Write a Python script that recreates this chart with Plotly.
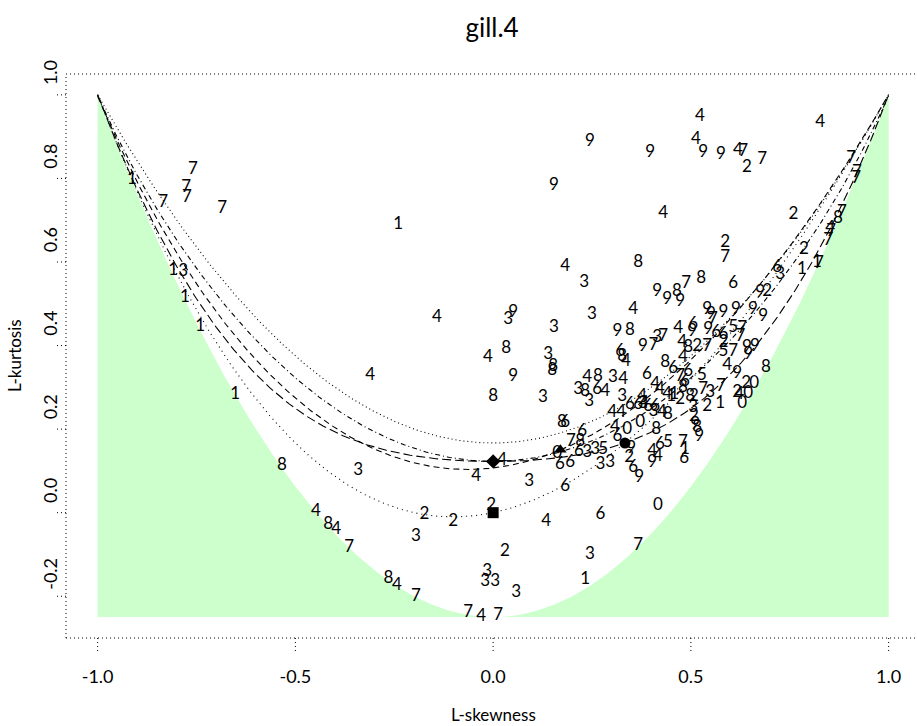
import numpy as np
import plotly.graph_objects as go

# ---- text ----
chart_title = "gill.4"
x_title = "L-skewness"
y_title = "L-kurtosis"
x_tickvals = [-1.0, -0.5, 0.0, 0.5, 1.0]
x_ticktext = ["-1.0", "-0.5", "0.0", "0.5", "1.0"]
y_tickvals = [-0.2, 0.0, 0.2, 0.4, 0.6, 0.8, 1.0]
y_ticktext = ["-0.2", "0.0", "0.2", "0.4", "0.6", "0.8", "1.0"]

# ---- sample L-moment ratios, labelled by group ----
site_group = [
    "7", "1", "7", "7", "7", "7", "1", "1", "3", "1",
    "1", "4", "4", "1", "8", "3", "4", "8", "4", "7",
    "3", "2", "2", "2", "8", "4", "7", "3", "3", "3",
    "3", "7", "4", "7", "2", "4", "8", "4", "4", "3",
    "6", "4", "6", "0", "7", "3", "1", "9", "9", "4",
    "4", "9", "9", "4", "7", "2", "7", "4", "9", "4",
    "2", "2", "7", "2", "8", "4", "3", "7", "8", "6",
    "9", "8", "9", "9", "7", "7", "7", "7", "8", "4",
    "7", "7", "1", "7", "1", "6", "3", "9", "2", "9",
    "9", "9", "9", "9", "9", "7", "4", "9", "3", "3",
    "3", "9", "8", "3", "7", "9", "7", "4", "6", "9",
    "9", "6", "6", "5", "7", "7", "4", "8", "2", "7",
    "5", "7", "9", "9", "9", "8", "3", "8", "8", "9",
    "6", "8", "4", "8", "4", "6", "6", "5", "4", "9",
    "8", "6", "4", "7", "6", "3", "8", "6", "4", "4",
    "8", "3", "4", "3", "3", "4", "3", "4", "4", "1",
    "1", "8", "2", "8", "2", "7", "3", "7", "2", "4",
    "2", "0", "0", "3", "2", "1", "0", "3", "6", "6",
    "4", "6", "6", "3", "4", "8", "4", "4", "4", "0",
    "0", "8", "2", "9", "8", "9", "8", "6", "6", "7",
    "8", "6", "9", "6", "3", "3", "5", "0", "6", "6",
    "3", "3", "2", "6", "9", "4", "4", "5", "6", "9",
    "7", "1", "6", "2",
]
site_tau3 = [
    -0.759, -0.913, -0.776, -0.774, -0.834, -0.685, -0.240, -0.809, -0.784, -0.779,
    -0.741, -0.142, -0.311, -0.652, -0.534, -0.341, -0.448, -0.417, -0.397, -0.364,
    -0.195, -0.174, -0.101, -0.005, -0.265, -0.243, -0.195, -0.015, -0.020, 0.005,
    0.058, -0.063, -0.030, 0.013, 0.030, -0.043, 0.000, -0.013, 0.023, 0.091,
    0.182, 0.134, 0.271, 0.417, 0.367, 0.245, 0.233, 0.245, 0.397, 0.523,
    0.513, 0.531, 0.576, 0.619, 0.632, 0.642, 0.680, 0.827, 0.154, 0.430,
    0.759, 0.587, 0.587, 0.786, 0.367, 0.182, 0.230, 0.488, 0.526, 0.607,
    0.415, 0.465, 0.440, 0.473, 0.905, 0.920, 0.918, 0.882, 0.872, 0.852,
    0.855, 0.847, 0.819, 0.824, 0.781, 0.718, 0.726, 0.675, 0.693, 0.683,
    0.657, 0.614, 0.582, 0.541, 0.551, 0.556, 0.354, 0.051, 0.038, 0.250,
    0.154, 0.314, 0.346, 0.415, 0.430, 0.379, 0.405, 0.468, 0.506, 0.503,
    0.544, 0.564, 0.582, 0.607, 0.630, 0.625, 0.478, 0.493, 0.516, 0.541,
    0.582, 0.607, 0.642, 0.662, 0.645, 0.033, 0.139, 0.152, 0.149, 0.051,
    0.321, 0.326, 0.336, 0.435, 0.480, 0.455, 0.493, 0.528, 0.592, 0.617,
    0.690, 0.389, 0.410, 0.473, 0.485, 0.215, 0.233, 0.263, 0.283, 0.238,
    0.265, 0.303, 0.329, 0.243, 0.126, 0.377, 0.379, 0.422, 0.440, 0.450,
    0.458, 0.480, 0.473, 0.498, 0.508, 0.531, 0.549, 0.576, 0.617, 0.622,
    0.640, 0.660, 0.645, 0.506, 0.541, 0.574, 0.630, 0.326, 0.346, 0.367,
    0.382, 0.392, 0.410, 0.405, 0.427, 0.442, 0.301, 0.324, 0.308, 0.339,
    0.372, 0.412, 0.508, 0.511, 0.516, 0.521, 0.174, 0.182, 0.225, 0.197,
    0.220, 0.314, 0.349, 0.217, 0.238, 0.258, 0.278, 0.162, 0.169, 0.195,
    0.271, 0.296, 0.344, 0.354, 0.369, 0.402, 0.417, 0.442, 0.422, 0.402,
    0.480, 0.485, 0.483, 0.582,
]
site_tau4 = [
    0.820, 0.797, 0.777, 0.753, 0.742, 0.727, 0.689, 0.579, 0.576, 0.514,
    0.445, 0.466, 0.328, 0.282, 0.112, 0.100, 0.002, -0.029, -0.041, -0.084,
    -0.057, -0.005, -0.022, 0.017, -0.158, -0.175, -0.201, -0.141, -0.165, -0.165,
    -0.191, -0.239, -0.249, -0.246, -0.093, 0.086, 0.278, 0.371, 0.124, 0.074,
    0.062, -0.022, -0.005, 0.017, -0.079, -0.100, -0.160, 0.888, 0.861, 0.947,
    0.892, 0.861, 0.856, 0.866, 0.864, 0.825, 0.844, 0.933, 0.782, 0.715,
    0.713, 0.646, 0.610, 0.629, 0.598, 0.589, 0.550, 0.548, 0.560, 0.548,
    0.529, 0.529, 0.510, 0.505, 0.847, 0.813, 0.799, 0.718, 0.703, 0.679,
    0.672, 0.651, 0.598, 0.596, 0.581, 0.586, 0.569, 0.526, 0.529, 0.469,
    0.486, 0.486, 0.478, 0.486, 0.474, 0.462, 0.486, 0.478, 0.462, 0.474,
    0.443, 0.433, 0.435, 0.419, 0.421, 0.397, 0.400, 0.440, 0.450, 0.433,
    0.438, 0.431, 0.426, 0.443, 0.440, 0.421, 0.407, 0.395, 0.397, 0.397,
    0.385, 0.385, 0.395, 0.397, 0.378, 0.392, 0.378, 0.349, 0.340, 0.325,
    0.385, 0.373, 0.361, 0.359, 0.371, 0.344, 0.337, 0.328, 0.352, 0.333,
    0.347, 0.330, 0.306, 0.325, 0.313, 0.294, 0.289, 0.294, 0.289, 0.323,
    0.325, 0.323, 0.318, 0.266, 0.275, 0.278, 0.261, 0.294, 0.282, 0.278,
    0.282, 0.299, 0.270, 0.278, 0.278, 0.294, 0.287, 0.301, 0.287, 0.282,
    0.309, 0.309, 0.285, 0.251, 0.254, 0.261, 0.261, 0.278, 0.258, 0.258,
    0.261, 0.254, 0.254, 0.242, 0.239, 0.234, 0.239, 0.239, 0.203, 0.199,
    0.215, 0.199, 0.230, 0.211, 0.203, 0.182, 0.215, 0.215, 0.194, 0.170,
    0.170, 0.182, 0.153, 0.146, 0.144, 0.151, 0.151, 0.141, 0.115, 0.120,
    0.115, 0.120, 0.132, 0.108, 0.084, 0.146, 0.134, 0.167, 0.163, 0.120,
    0.167, 0.151, 0.129, 0.407,
]

# ---- two-parameter distributions (exponential, Gumbel, normal, uniform) ----
twopar_tau3 = [1 / 3, 0.1699, 0.0, 0.0]
twopar_tau4 = [1 / 6, 0.1504, 0.1226, 0.0]
twopar_symbol = ["circle", "triangle-up", "diamond", "square"]

# ---- theoretical curves ----
t = np.linspace(-1, 1, 401)
lower_bound = (5 * t**2 - 1) / 4
glo = (1 + 5 * t**2) / 6
gpa = t * (1 + 5 * t) / (5 + t)
gev = (0.10701 + 0.11090 * t + 0.84838 * t**2 - 0.06669 * t**3
       + 0.00567 * t**4 - 0.04208 * t**5 + 0.03763 * t**6)
gno = (0.12282 + 0.77518 * t**2 + 0.12279 * t**4
       - 0.13638 * t**6 + 0.11368 * t**8)
pe3 = (0.12240 + 0.30115 * t**2 + 0.95812 * t**4
       - 0.57488 * t**6 + 0.19383 * t**8)

FONT = "Lato"
fig = go.Figure()

# region below the attainable lower bound
poly_x = np.concatenate([t, [1.0, -1.0]])
poly_y = np.concatenate([lower_bound, [-0.25, -0.25]])
fig.add_trace(go.Scatter(x=poly_x, y=poly_y, mode="lines", fill="toself",
                         fillcolor="#ccffcc", line=dict(width=0),
                         hoverinfo="skip", showlegend=False))

curves = [
    (glo, "1px,3px"),
    (gev, "6px,4px"),
    (gno, "1px,3px,5px,3px"),
    (pe3, "9px,4px"),
    (gpa, "1px,4px"),
]
for yv, dash in curves:
    fig.add_trace(go.Scatter(x=t, y=yv, mode="lines",
                             line=dict(color="black", width=1.1, dash=dash),
                             hoverinfo="skip", showlegend=False))

fig.add_trace(go.Scatter(x=twopar_tau3, y=twopar_tau4, mode="markers",
                         marker=dict(symbol=twopar_symbol, size=11, color="black"),
                         showlegend=False))

fig.add_trace(go.Scatter(x=site_tau3, y=site_tau4, mode="text", text=site_group,
                         textposition="middle center",
                         textfont=dict(family=FONT, size=17, color="black"),
                         showlegend=False))

# dotted frame and tick marks
dot = dict(color="black", width=1, dash="1px,3px")
frame = [
    dict(x0=0, x1=1, y0=1, y1=1),
    dict(x0=0, x1=1, y0=0, y1=0),
    dict(x0=0, x1=0, y0=0, y1=1),
]
for f in frame:
    fig.add_shape(type="line", xref="paper", yref="paper", line=dot, **f)
for v in x_tickvals:
    fig.add_shape(type="line", xref="x", yref="paper", ysizemode="pixel",
                  yanchor=0, x0=v, x1=v, y0=0, y1=-13, line=dot)
for v in y_tickvals:
    fig.add_shape(type="line", yref="y", xref="paper", xsizemode="pixel",
                  xanchor=0, y0=v, y1=v, x0=0, x1=-12, line=dot)

# rotated y labels sit slightly above their tick marks
label_lift = 0.047
fig.update_layout(
    width=917, height=726,
    margin=dict(l=66, r=0, t=74, b=88),
    paper_bgcolor="white", plot_bgcolor="white",
    font=dict(family=FONT, color="black"),
    title=dict(text=chart_title, x=492 / 917, xref="container", xanchor="center",
               y=1 - 28 / 726, yref="container", yanchor="middle",
               font=dict(family=FONT, size=26, color="black")),
    xaxis=dict(range=[-1.08, -1.08 + 851 / 395.5], showgrid=False, zeroline=False,
               showline=False, tickvals=x_tickvals, ticktext=x_ticktext,
               ticks="", ticklabelstandoff=26,
               tickfont=dict(family=FONT, size=18, color="black")),
    yaxis=dict(range=[-0.3, 1.05], showgrid=False, zeroline=False, showline=False,
               tickvals=[v + label_lift for v in y_tickvals], ticktext=y_ticktext,
               ticks="", tickangle=-90, ticklabelstandoff=4,
               tickfont=dict(family=FONT, size=18, color="black")),
    annotations=[
        dict(text=x_title, xref="paper", yref="paper", x=0.5018, y=-0.1365,
             showarrow=False, xanchor="center", yanchor="middle",
             font=dict(family=FONT, size=17, color="black")),
        dict(text=y_title, xref="paper", yref="paper", x=-0.0611, y=0.5,
             showarrow=False, textangle=-90, xanchor="center", yanchor="middle",
             font=dict(family=FONT, size=17, color="black")),
    ],
)

fig.write_html("out.html")
